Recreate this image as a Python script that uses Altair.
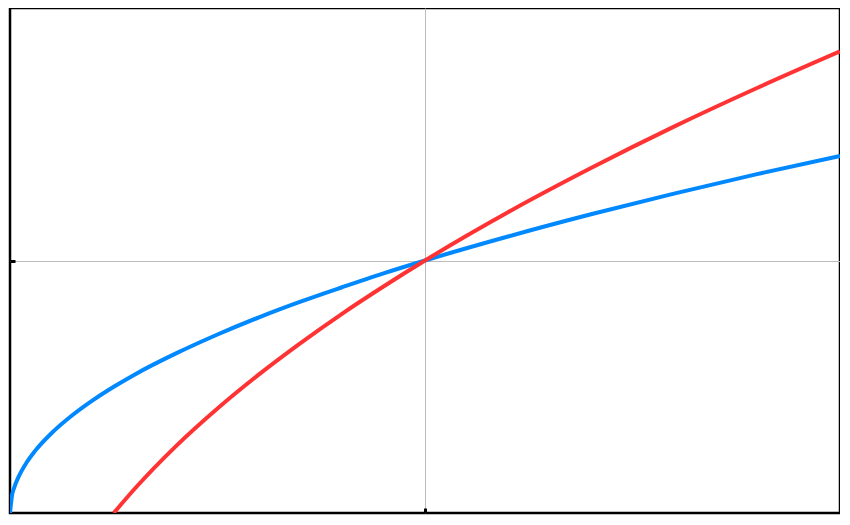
import altair as alt
import pandas as pd

# Curve points (x in [0, 2], y in [0, 2])
blue_x = [0, 0.005, 0.01, 0.02, 0.04, 0.06, 0.1, 0.15, 0.2, 0.25, 0.3, 0.4, 0.5,
          0.6, 0.7, 0.8, 0.9, 1.0, 1.2, 1.4, 1.6, 1.8, 2.0]
blue_y = [0, 0.071, 0.1, 0.141, 0.2, 0.245, 0.316, 0.387, 0.447, 0.5, 0.548, 0.632, 0.707,
          0.775, 0.837, 0.894, 0.949, 1.0, 1.095, 1.183, 1.265, 1.342, 1.414]

red_x = [0.25, 0.3, 0.4, 0.5, 0.6, 0.7, 0.8, 0.9, 1.0, 1.2, 1.4, 1.6, 1.8, 2.0]
red_y = [0.0, 0.095, 0.265, 0.414, 0.549, 0.673, 0.789, 0.897, 1.0, 1.191, 1.366, 1.530, 1.683, 1.828]

series_names = ["blue", "red"]
series_colors = ["#0088ff", "#ff3333"]

rows = []
for i, (x, y) in enumerate(zip(blue_x, blue_y)):
    rows.append({"series": "blue", "x": x, "y": y, "order": i})
for i, (x, y) in enumerate(zip(red_x, red_y)):
    rows.append({"series": "red", "x": x, "y": y, "order": i})
df = pd.DataFrame(rows)

chart = alt.Chart(df).mark_line(strokeWidth=4, interpolate="monotone", clip=True).encode(
    x=alt.X("x:Q", scale=alt.Scale(domain=[0, 2], nice=False, zero=False),
            axis=alt.Axis(title=None, labels=False, values=[1], domain=False,
                          ticks=True, tickSize=5, tickWidth=3, tickColor="black",
                          offset=-5, grid=True, gridColor="#bbbbbb", gridWidth=1)),
    y=alt.Y("y:Q", scale=alt.Scale(domain=[0, 2], nice=False, zero=False),
            axis=alt.Axis(title=None, labels=False, values=[1], domain=False,
                          ticks=True, tickSize=5, tickWidth=3, tickColor="black",
                          offset=-5, grid=True, gridColor="#bbbbbb", gridWidth=1)),
    color=alt.Color("series:N", scale=alt.Scale(domain=series_names, range=series_colors), legend=None),
    order="order:Q",
).properties(
    width=832, height=507, padding=0,
    autosize=alt.AutoSizeParams(type="fit", contains="padding"),
).configure_view(stroke="black", strokeWidth=2.5)

chart.save("out.html", embed_options={"renderer": "svg", "actions": False})
